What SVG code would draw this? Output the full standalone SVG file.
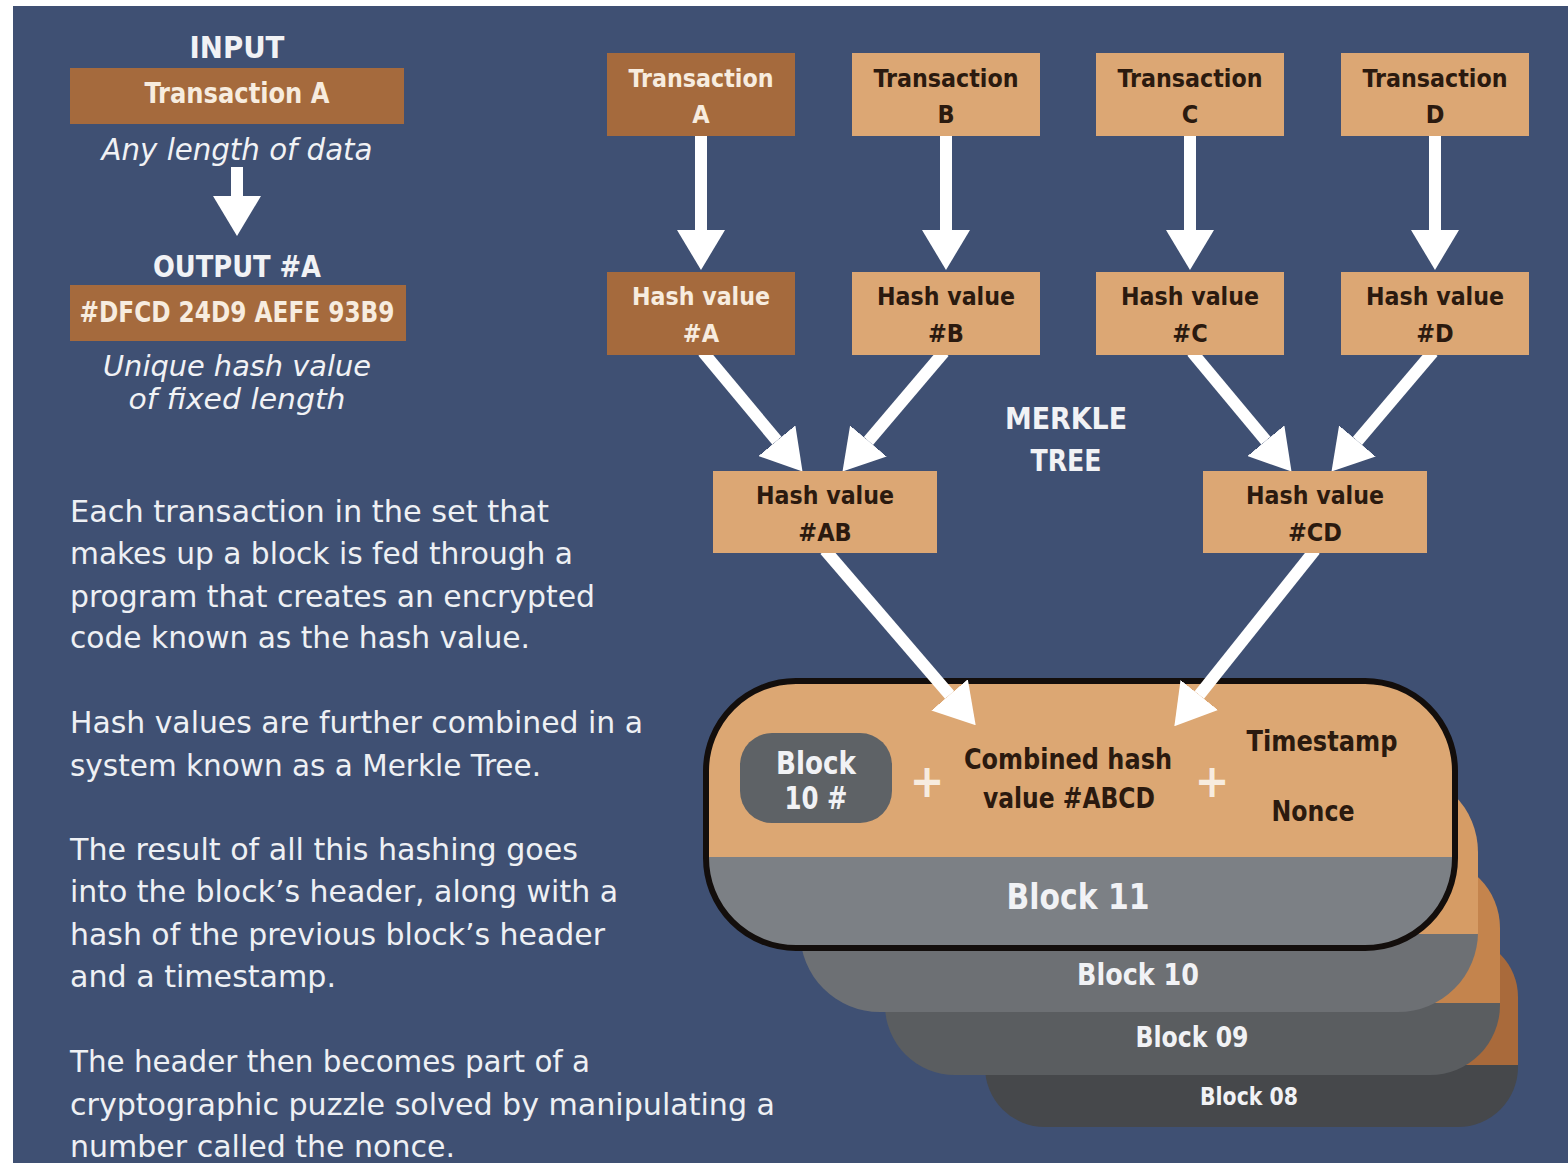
<svg xmlns="http://www.w3.org/2000/svg" width="1568" height="1163" viewBox="0 0 1568 1163">
  <defs>
    <style>
      .f { font-family: 'DejaVu Sans Condensed', 'DejaVu Sans', sans-serif; font-stretch: condensed; }
      .b { font-weight: bold; }
      .it { font-style: italic; }
      .w { fill: #f1f2f5; }
      .cream { fill: #f7ecdf; }
      .dk { fill: #2b1a0f; }
      .c { text-anchor: middle; }
      .p { font-size: 31px; fill: #eef0f4; }
      .tan { fill: #dca774; }
      .brown { fill: #a56a3d; }
      .lbl { font-size: 25px; font-weight: bold; text-anchor: middle; }
      .conn { stroke: #ffffff; stroke-width: 12; fill: none; marker-end: url(#head); }
    </style>
    <marker id="head" markerUnits="userSpaceOnUse" viewBox="0 0 40 48" markerWidth="40" markerHeight="48" refX="0" refY="24" orient="auto">
      <path d="M0,0 L40,24 L0,48 Z" fill="#ffffff"/>
    </marker>
    <clipPath id="clip08"><rect x="985" y="937" width="533" height="190" rx="60"/></clipPath>
    <clipPath id="clip09"><rect x="885" y="858" width="615" height="217" rx="70"/></clipPath>
    <clipPath id="clip10"><rect x="800" y="772" width="678" height="240" rx="80"/></clipPath>
    <clipPath id="clip11"><rect x="706" y="681" width="749" height="267" rx="90"/></clipPath>
  </defs>

  <!-- page -->
  <rect x="0" y="0" width="1568" height="1163" fill="#ffffff"/>
  <rect x="13" y="6" width="1555" height="1157" fill="#3f5073"/>

  <!-- hash function explainer -->
  <g id="input-label">
    <text class="f b w c" x="237" y="58" font-size="31" textLength="95" lengthAdjust="spacingAndGlyphs">INPUT</text>
  </g>
  <g id="input-box">
    <rect class="brown" x="70" y="68" width="334" height="56"/>
    <text class="f b cream c" x="237" y="103" font-size="28" textLength="185" lengthAdjust="spacingAndGlyphs">Transaction A</text>
    <text class="f it w c" x="237" y="160" font-size="30" textLength="271" lengthAdjust="spacingAndGlyphs">Any length of data</text>
  </g>
  <g id="output-label">
    <text class="f b w c" x="237" y="277" font-size="31" textLength="168" lengthAdjust="spacingAndGlyphs">OUTPUT #A</text>
  </g>
  <g id="output-box">
    <rect class="brown" x="70" y="285" width="336" height="56"/>
    <text class="f b cream c" x="237" y="322" font-size="28" textLength="315" lengthAdjust="spacingAndGlyphs">#DFCD 24D9 AEFE 93B9</text>
    <text class="f it w c" x="237" y="376" font-size="28" textLength="268" lengthAdjust="spacingAndGlyphs">Unique hash value</text>
    <text class="f it w c" x="237" y="409" font-size="28" textLength="217" lengthAdjust="spacingAndGlyphs">of fixed length</text>
  </g>

  <!-- explanatory paragraphs -->
  <g id="notes" class="f p">
    <text x="70" y="522" textLength="479" lengthAdjust="spacingAndGlyphs">Each transaction in the set that</text>
    <text x="70" y="564" textLength="503" lengthAdjust="spacingAndGlyphs">makes up a block is fed through a</text>
    <text x="70" y="607" textLength="525" lengthAdjust="spacingAndGlyphs">program that creates an encrypted</text>
    <text x="70" y="648" textLength="460" lengthAdjust="spacingAndGlyphs">code known as the hash value.</text>
    <text x="70" y="733" textLength="573" lengthAdjust="spacingAndGlyphs">Hash values are further combined in a</text>
    <text x="70" y="776" textLength="471" lengthAdjust="spacingAndGlyphs">system known as a Merkle Tree.</text>
    <text x="70" y="860" textLength="508" lengthAdjust="spacingAndGlyphs">The result of all this hashing goes</text>
    <text x="70" y="902" textLength="548" lengthAdjust="spacingAndGlyphs">into the block’s header, along with a</text>
    <text x="70" y="945" textLength="535" lengthAdjust="spacingAndGlyphs">hash of the previous block’s header</text>
    <text x="70" y="987" textLength="266" lengthAdjust="spacingAndGlyphs">and a timestamp.</text>
    <text x="70" y="1072" textLength="520" lengthAdjust="spacingAndGlyphs">The header then becomes part of a</text>
    <text x="70" y="1115" textLength="705" lengthAdjust="spacingAndGlyphs">cryptographic puzzle solved by manipulating a</text>
    <text x="70" y="1157" textLength="385" lengthAdjust="spacingAndGlyphs">number called the nonce.</text>
  </g>

  <!-- block chain stack, back to front -->
  <g id="block-08" clip-path="url(#clip08)">
    <rect x="985" y="937" width="533" height="128" fill="#a96a3b"/>
    <rect x="985" y="1065" width="533" height="62" fill="#46484b"/>
    <text class="f b w c" x="1249" y="1105" font-size="25" textLength="98" lengthAdjust="spacingAndGlyphs">Block 08</text>
  </g>
  <g id="block-09" clip-path="url(#clip09)">
    <rect x="885" y="858" width="615" height="145" fill="#c4844d"/>
    <rect x="885" y="1003" width="615" height="72" fill="#5a5d60"/>
    <text class="f b w c" x="1192" y="1047" font-size="28" textLength="113" lengthAdjust="spacingAndGlyphs">Block 09</text>
  </g>
  <g id="block-10" clip-path="url(#clip10)">
    <rect x="800" y="772" width="678" height="162" fill="#d69c65"/>
    <rect x="800" y="934" width="678" height="78" fill="#6d7074"/>
    <text class="f b w c" x="1138" y="985" font-size="30" textLength="122" lengthAdjust="spacingAndGlyphs">Block 10</text>
  </g>
  <g id="block-11">
    <g clip-path="url(#clip11)">
      <rect x="706" y="681" width="749" height="176" fill="#dca773"/>
      <rect x="706" y="857" width="749" height="91" fill="#7c8085"/>
    </g>
    <rect x="706" y="681" width="749" height="267" rx="90" fill="none" stroke="#130e0c" stroke-width="6"/>
    <text class="f b w c" x="1078" y="909" font-size="36" textLength="143" lengthAdjust="spacingAndGlyphs">Block 11</text>
    <rect x="740" y="733" width="152" height="90" rx="32" fill="#5e6266"/>
    <text class="f b w c" x="816" y="774" font-size="32" textLength="80" lengthAdjust="spacingAndGlyphs">Block</text>
    <text class="f b w c" x="816" y="809" font-size="32" textLength="63" lengthAdjust="spacingAndGlyphs">10 #</text>
    <text class="f b cream c" x="927" y="797" font-size="46">+</text>
    <text class="f b dk c" x="1068" y="769" font-size="29" textLength="208" lengthAdjust="spacingAndGlyphs">Combined hash</text>
    <text class="f b dk c" x="1069" y="808" font-size="29" textLength="172" lengthAdjust="spacingAndGlyphs">value #ABCD</text>
    <text class="f b cream c" x="1212" y="797" font-size="46">+</text>
    <text class="f b dk c" x="1322" y="751" font-size="29" textLength="151" lengthAdjust="spacingAndGlyphs">Timestamp</text>
    <text class="f b dk c" x="1313" y="821" font-size="29" textLength="83" lengthAdjust="spacingAndGlyphs">Nonce</text>
  </g>

  <!-- connectors -->
  <g id="connectors">
    <line class="conn" x1="237" y1="167" x2="237" y2="196" stroke-width="16"/>
    <line class="conn" x1="701" y1="134" x2="701" y2="230"/>
    <line class="conn" x1="946" y1="134" x2="946" y2="230"/>
    <line class="conn" x1="1190" y1="134" x2="1190" y2="230"/>
    <line class="conn" x1="1435" y1="134" x2="1435" y2="230"/>
    <line class="conn" x1="703" y1="352" x2="776.9" y2="440.7"/>
    <line class="conn" x1="944" y1="352" x2="868.4" y2="441"/>
    <line class="conn" x1="1192" y1="352" x2="1265.9" y2="440.7"/>
    <line class="conn" x1="1433" y1="352" x2="1357.4" y2="441"/>
    <line class="conn" x1="825" y1="550" x2="949.6" y2="694.9"/>
    <line class="conn" x1="1315" y1="550" x2="1199.3" y2="695"/>
  </g>

  <!-- Merkle tree nodes -->
  <g id="tx-a">
    <rect class="brown" x="607" y="53" width="188" height="83"/>
    <text class="f cream lbl" x="701" y="87" textLength="145" lengthAdjust="spacingAndGlyphs">Transaction</text>
    <text class="f cream lbl" x="701" y="123">A</text>
  </g>
  <g id="tx-b">
    <rect class="tan" x="852" y="53" width="188" height="83"/>
    <text class="f dk lbl" x="946" y="87" textLength="145" lengthAdjust="spacingAndGlyphs">Transaction</text>
    <text class="f dk lbl" x="946" y="123">B</text>
  </g>
  <g id="tx-c">
    <rect class="tan" x="1096" y="53" width="188" height="83"/>
    <text class="f dk lbl" x="1190" y="87" textLength="145" lengthAdjust="spacingAndGlyphs">Transaction</text>
    <text class="f dk lbl" x="1190" y="123">C</text>
  </g>
  <g id="tx-d">
    <rect class="tan" x="1341" y="53" width="188" height="83"/>
    <text class="f dk lbl" x="1435" y="87" textLength="145" lengthAdjust="spacingAndGlyphs">Transaction</text>
    <text class="f dk lbl" x="1435" y="123">D</text>
  </g>
  <g id="hash-a">
    <rect class="brown" x="607" y="272" width="188" height="83"/>
    <text class="f cream lbl" x="701" y="305" textLength="138" lengthAdjust="spacingAndGlyphs">Hash value</text>
    <text class="f cream lbl" x="701" y="342">#A</text>
  </g>
  <g id="hash-b">
    <rect class="tan" x="852" y="272" width="188" height="83"/>
    <text class="f dk lbl" x="946" y="305" textLength="138" lengthAdjust="spacingAndGlyphs">Hash value</text>
    <text class="f dk lbl" x="946" y="342">#B</text>
  </g>
  <g id="hash-c">
    <rect class="tan" x="1096" y="272" width="188" height="83"/>
    <text class="f dk lbl" x="1190" y="305" textLength="138" lengthAdjust="spacingAndGlyphs">Hash value</text>
    <text class="f dk lbl" x="1190" y="342">#C</text>
  </g>
  <g id="hash-d">
    <rect class="tan" x="1341" y="272" width="188" height="83"/>
    <text class="f dk lbl" x="1435" y="305" textLength="138" lengthAdjust="spacingAndGlyphs">Hash value</text>
    <text class="f dk lbl" x="1435" y="342">#D</text>
  </g>
  <g id="hash-ab">
    <rect class="tan" x="713" y="471" width="224" height="82"/>
    <text class="f dk lbl" x="825" y="504" textLength="138" lengthAdjust="spacingAndGlyphs">Hash value</text>
    <text class="f dk lbl" x="825" y="541">#AB</text>
  </g>
  <g id="hash-cd">
    <rect class="tan" x="1203" y="471" width="224" height="82"/>
    <text class="f dk lbl" x="1315" y="504" textLength="138" lengthAdjust="spacingAndGlyphs">Hash value</text>
    <text class="f dk lbl" x="1315" y="541">#CD</text>
  </g>
  <g id="merkle-title">
    <text class="f b w c" x="1066" y="429" font-size="31" textLength="122" lengthAdjust="spacingAndGlyphs">MERKLE</text>
    <text class="f b w c" x="1066" y="471" font-size="31" textLength="71" lengthAdjust="spacingAndGlyphs">TREE</text>
  </g>
</svg>
